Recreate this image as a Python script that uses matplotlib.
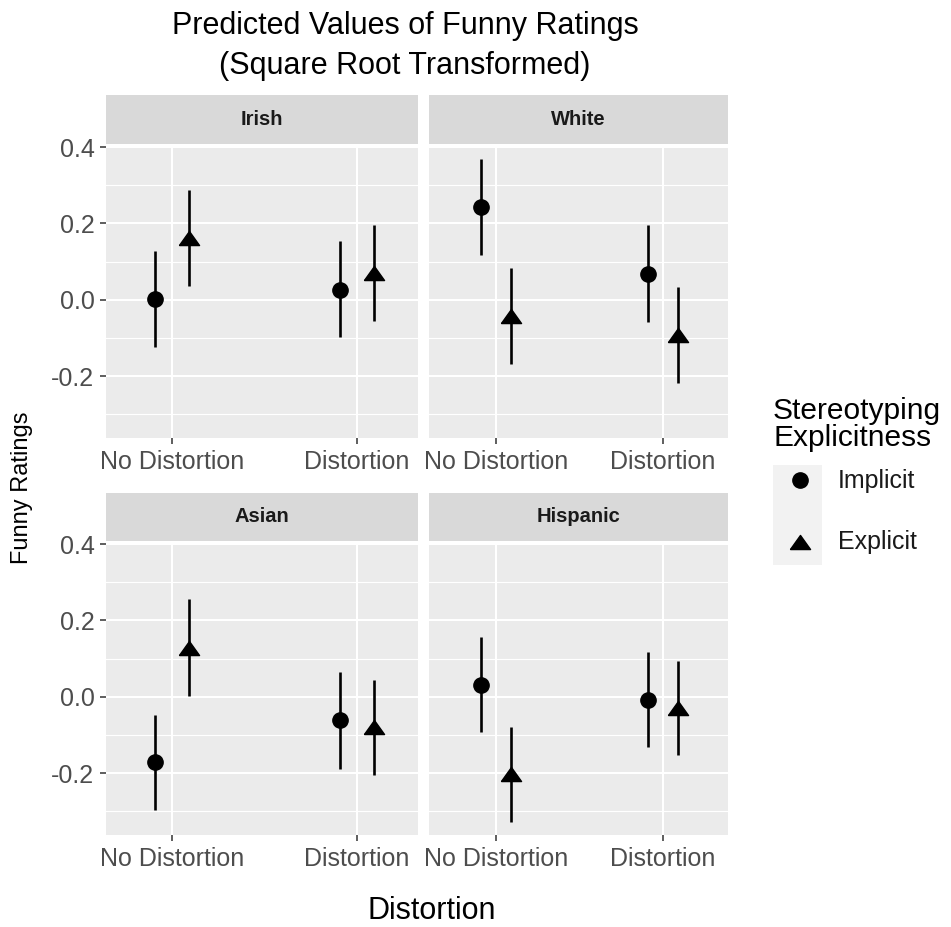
import matplotlib
matplotlib.use("Agg")
import matplotlib.pyplot as plt
import numpy as np

plt.rcParams["font.family"] = ["Liberation Sans", "DejaVu Sans"]

# predicted values (sqrt scale) with 95% CI, order: No Distortion, Distortion
groups = ["Irish", "White", "Asian", "Hispanic"]
distortion = ["No Distortion", "Distortion"]

implicit_est = [[0.002, 0.027], [0.243, 0.068], [-0.171, -0.062], [0.031, -0.008]]
implicit_lo = [[-0.123, -0.097], [0.118, -0.058], [-0.296, -0.190], [-0.093, -0.132]]
implicit_hi = [[0.128, 0.153], [0.368, 0.195], [-0.047, 0.065], [0.156, 0.117]]

explicit_est = [[0.162, 0.070], [-0.042, -0.092], [0.129, -0.080], [-0.203, -0.030]]
explicit_lo = [[0.037, -0.055], [-0.168, -0.218], [0.003, -0.205], [-0.327, -0.153]]
explicit_hi = [[0.287, 0.195], [0.084, 0.034], [0.255, 0.045], [-0.078, 0.094]]

W, H = 951, 927
fig = plt.figure(figsize=(W / 100, H / 100), dpi=100)
fig.patch.set_facecolor("white")


def px_box(left, top, right, bottom):
    return [left / W, 1 - bottom / H, (right - left) / W, (bottom - top) / H]


# equilateral-ish triangle like ggplot shape 17
tri = [(-1, -0.7), (1, -0.7), (0, 0.7), (-1, -0.7)]

col_x = [(106, 418), (429, 728)]
row_plot = [(146, 438), (543, 835)]
row_strip = [(95, 144), (493, 541)]
xlims = [(0.643, 2.33), (0.599, 2.389)]
dodge = 0.09
x = np.arange(1, len(distortion) + 1)

for i, grp in enumerate(groups):
    r, c = divmod(i, 2)
    ax = fig.add_axes(px_box(col_x[c][0], row_plot[r][0], col_x[c][1], row_plot[r][1]))
    ax.set_facecolor("#EBEBEB")
    for s in ax.spines.values():
        s.set_visible(False)

    ax.vlines(x - dodge, implicit_lo[i], implicit_hi[i], color="black", lw=1.9, zorder=3)
    ax.vlines(x + dodge, explicit_lo[i], explicit_hi[i], color="black", lw=1.9, zorder=3)
    ax.plot(x - dodge, implicit_est[i], "o", color="black", ms=11, zorder=4)
    ax.plot(x + dodge, explicit_est[i], linestyle="none", marker=tri, color="black",
            ms=14.5, zorder=4)

    ax.set_xlim(*xlims[c])
    ax.set_ylim(-0.362, 0.403)
    ax.set_xticks(x)
    ax.set_xticklabels(distortion)
    ax.set_yticks([-0.2, 0.0, 0.2, 0.4])
    ax.set_yticks([-0.3, -0.1, 0.1, 0.3], minor=True)
    ax.set_yticklabels(["-0.2", "0.0", "0.2", "0.4"])
    ax.grid(True, which="major", color="white", lw=1.5)
    ax.grid(True, which="minor", axis="y", color="white", lw=0.8)
    ax.set_axisbelow(True)
    ax.tick_params(axis="both", which="major", length=4.3, width=1.1, color="#333333",
                   labelsize=18, labelcolor="#4D4D4D", pad=4)
    ax.tick_params(axis="y", which="minor", length=0)
    if c == 1:
        ax.tick_params(axis="y", which="major", left=False, labelleft=False)

    st = fig.add_axes(px_box(col_x[c][0], row_strip[r][0], col_x[c][1], row_strip[r][1]))
    st.set_facecolor("#D9D9D9")
    st.set_xticks([])
    st.set_yticks([])
    for s in st.spines.values():
        s.set_visible(False)
    st.text(0.5, 0.5, grp, ha="center", va="center", fontsize=14.5, fontweight="bold",
            color="#1A1A1A", transform=st.transAxes)

# titles
title_font = ["Liberation Sans Narrow", "Liberation Sans"]
fig.text(405 / W, 1 - 26 / H, "Predicted Values of Funny Ratings", ha="center",
         va="center", fontsize=22, family=title_font)
fig.text(405 / W, 1 - 66 / H, "(Square Root Transformed)", ha="center",
         va="center", fontsize=22, family=title_font)
fig.text(432 / W, 1 - 911 / H, "Distortion", ha="center", va="center", fontsize=22)
fig.text(22 / W, 1 - 488 / H, "Funny Ratings", ha="center", va="center",
         rotation=90, fontsize=17)

# legend
fig.text(773 / W, 1 - 411 / H, "Stereotyping", ha="left", va="center", fontsize=21.5)
fig.text(773 / W, 1 - 438 / H, "Explicitness", ha="left", va="center", fontsize=21.5)
lg = fig.add_axes(px_box(773, 465, 822, 565))
lg.set_facecolor("#F2F2F2")
lg.set_xlim(0, 1)
lg.set_ylim(0, 1)
lg.set_xticks([])
lg.set_yticks([])
for s in lg.spines.values():
    s.set_visible(False)
lg.plot([0.55], [0.85], "o", color="black", ms=11)
lg.plot([0.55], [0.23], linestyle="none", marker=tri, color="black", ms=14.5)
fig.text(838 / W, 1 - 481 / H, "Implicit", ha="left", va="center", fontsize=18, color="#1A1A1A")
fig.text(838 / W, 1 - 542 / H, "Explicit", ha="left", va="center", fontsize=18, color="#1A1A1A")

fig.savefig("out.png", dpi=100)
